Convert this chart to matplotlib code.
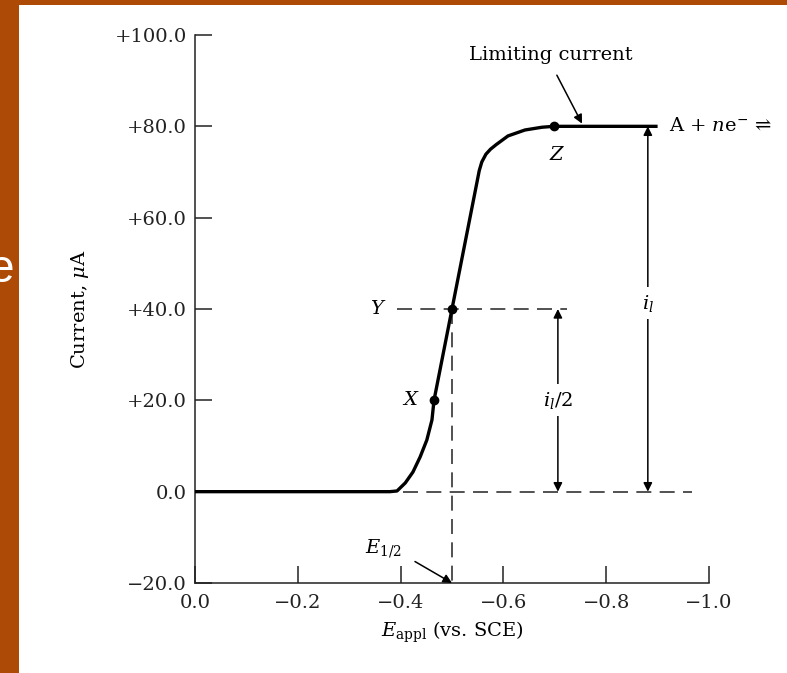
import matplotlib
matplotlib.use("Agg")
import matplotlib.pyplot as plt
from matplotlib.patches import Rectangle

plt.rcParams['font.family'] = ['DejaVu Serif', 'DejaVu Sans']
plt.rcParams['mathtext.fontset'] = 'dejavuserif'

# polarographic wave
e_curve = [0.0, -0.379, -0.393, -0.409, -0.424, -0.438, -0.451, -0.461, -0.465,
           -0.500, -0.549, -0.553, -0.558, -0.566, -0.575, -0.586, -0.609, -0.642,
           -0.675, -0.698, -0.900]
i_curve = [0.0, 0.0, 0.15, 1.9, 4.3, 7.6, 11.3, 15.7, 20.0,
           40.0, 68.0, 70.3, 72.2, 73.9, 75.0, 76.0, 77.9, 79.2,
           79.8, 80.0, 80.0]

# marked points X, Y, Z
pt_names = ['X', 'Y', 'Z']
pt_e = [-0.465, -0.500, -0.698]
pt_i = [20.0, 40.0, 80.0]

e_half = -0.500
i_lim = 80.0

x_ticks = [0.0, -0.2, -0.4, -0.6, -0.8, -1.0]
x_ticklabels = ['0.0', '\u22120.2', '\u22120.4', '\u22120.6', '\u22120.8', '\u22121.0']
y_ticks = [-20, 0, 20, 40, 60, 80, 100]
y_ticklabels = ['\u221220.0', '0.0', '+20.0', '+40.0', '+60.0', '+80.0', '+100.0']

fs = 14

fig = plt.figure(figsize=(7.87, 6.73), dpi=100, facecolor='#AD4A06')
fig.patches.append(Rectangle((19 / 787, 0), 1, 1 - 5 / 673, transform=fig.transFigure,
                             facecolor='white', edgecolor='none', zorder=-10))
fig.text(2 / 787, 1 - 270 / 673, 'e', color='white', fontsize=33, family='Liberation Sans',
         ha='center', va='center')

ax = fig.add_axes([195 / 787, 1 - 583 / 673, 514 / 787, 548 / 673])
ax.set_facecolor('none')
ax.set_xlim(0, -1.0)
ax.set_ylim(-20, 100)
for s in ['top', 'right']:
    ax.spines[s].set_visible(False)
for s in ['left', 'bottom']:
    ax.spines[s].set_linewidth(1.1)
    ax.spines[s].set_color('#222222')

ax.set_xticks(x_ticks)
ax.set_xticklabels(x_ticklabels)
ax.set_yticks(y_ticks)
ax.set_yticklabels(y_ticklabels)
ax.tick_params(direction='in', length=12, width=1.1, labelsize=fs, colors='#222222')
ax.tick_params(axis='x', pad=8)
ax.tick_params(axis='y', pad=6)

ax.text((80 - 195) / 514, 0.5, r'Current, $\mu$A', transform=ax.transAxes,
        rotation=90, ha='center', va='center', fontsize=fs)
ax.text(0.5, -0.09, r'$E_{\rm appl}$ (vs. SCE)', transform=ax.transAxes,
        ha='center', va='center', fontsize=fs)

# dashed guide lines
dash = dict(color='#333333', lw=1.2, dashes=(9, 5))
ax.plot([-0.393, -0.724], [40, 40], **dash)
ax.plot([-0.405, -0.967], [0, 0], clip_on=False, **dash)
ax.plot([e_half, e_half], [40, -20], **dash)

# the wave
ax.plot(e_curve, i_curve, color='black', lw=2.4, solid_capstyle='butt',
        solid_joinstyle='round', zorder=5)
ax.plot(pt_e, pt_i, 'o', color='black', ms=6, zorder=6)

ax.text(-0.418, 20, 'X', style='italic', fontsize=fs, ha='center', va='center')
ax.text(-0.354, 40, 'Y', style='italic', fontsize=fs, ha='center', va='center')
ax.text(-0.702, 73.7, 'Z', style='italic', fontsize=fs, ha='center', va='center')

# limiting current
arr = dict(arrowstyle='-|>', color='black', lw=1.1, mutation_scale=13, shrinkA=0, shrinkB=0)
ax.text(-0.693, 95.6, 'Limiting current', ha='center', va='center', fontsize=fs)
ax.annotate('', xy=(-0.753, 80.6), xytext=(-0.704, 91.2), arrowprops=arr)
ax.text(-0.922, i_lim, 'A + $n$e$^{-}$ \u21cc', fontsize=fs, ha='left', va='center', clip_on=False)

# half-wave potential
ax.text(-0.366, -12.4, r'$E_{1/2}$', ha='center', va='center', fontsize=fs)
ax.annotate('', xy=(e_half, -20), xytext=(-0.428, -15.3), arrowprops=arr)

# current heights
dbl = dict(arrowstyle='<|-|>', color='black', lw=1.1, mutation_scale=13, shrinkA=0, shrinkB=0)
ax.annotate('', xy=(-0.706, 40), xytext=(-0.706, 0), arrowprops=dbl)
ax.text(-0.706, 20, r'$i_l$/2', fontsize=fs, ha='center', va='center', zorder=7,
        bbox=dict(facecolor='white', edgecolor='none', pad=4))
ax.annotate('', xy=(-0.881, i_lim), xytext=(-0.881, 0), arrowprops=dbl)
ax.text(-0.881, 41.3, r'$i_l$', fontsize=fs, ha='center', va='center', zorder=7,
        bbox=dict(facecolor='white', edgecolor='none', pad=4))

fig.savefig('out.png', dpi=100, facecolor=fig.get_facecolor())
